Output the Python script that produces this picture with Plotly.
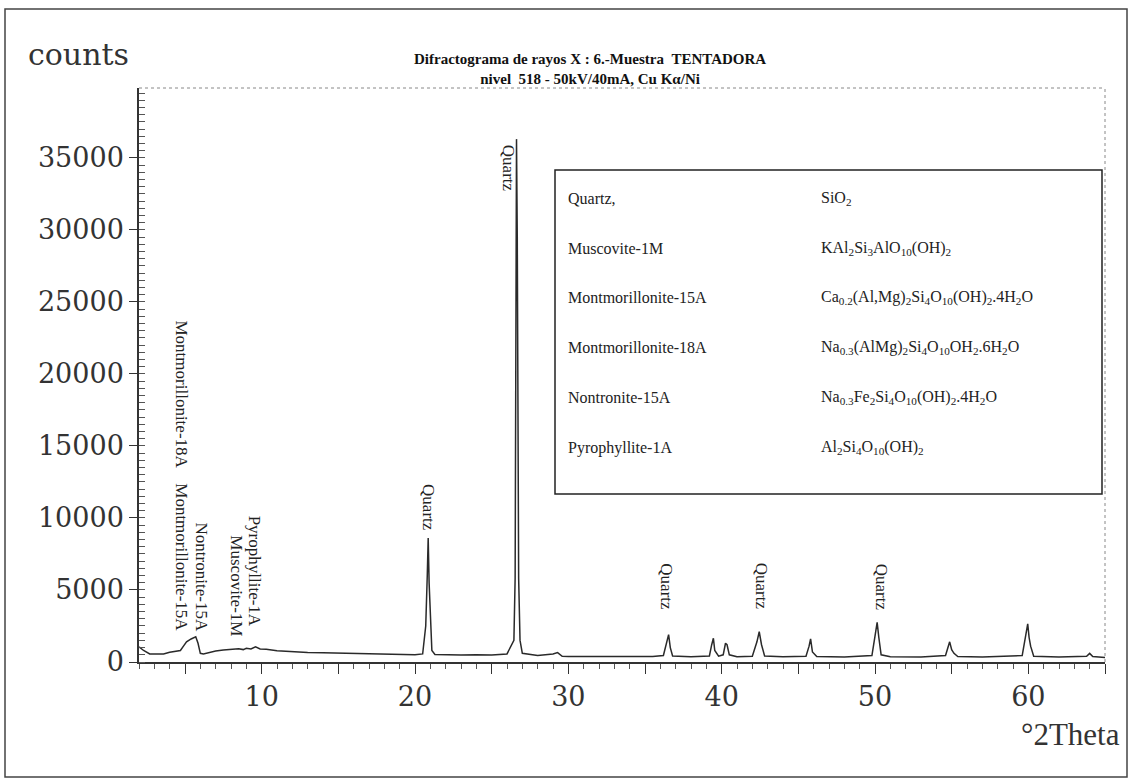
import plotly.graph_objects as go

# ---- data ----
two_theta = [2.0, 2.3, 2.7, 3.2, 3.6, 4.0, 4.4, 4.7, 4.9, 5.1, 5.4, 5.7, 5.85, 6.0, 6.2, 6.5,
             7.0, 7.5, 8.0, 8.5, 8.8, 9.0, 9.3, 9.6, 9.9, 10.3, 11.0, 12.0, 13.0, 14.0, 15.0,
             16.0, 17.0, 18.0, 19.0, 20.0, 20.5, 20.7, 20.8, 20.86, 20.92, 21.0, 21.1, 21.3,
             22.0, 23.0, 24.0, 25.0, 26.0, 26.45, 26.53, 26.58, 26.62, 26.67, 26.71, 26.76,
             26.85, 27.0, 28.0, 29.0, 29.3, 29.6, 30.0, 32.0, 34.0, 35.5, 36.2, 36.4, 36.54,
             36.65, 36.8, 38.0, 39.2, 39.35, 39.46, 39.55, 39.8, 40.1, 40.25, 40.35, 40.5,
             41.0, 42.0, 42.3, 42.45, 42.6, 42.8, 44.0, 45.5, 45.7, 45.8, 45.92, 46.2, 48.0,
             49.8, 50.0, 50.14, 50.25, 50.4, 51.0, 53.0, 54.6, 54.8, 54.87, 55.0, 55.15, 55.4,
             57.0, 59.6, 59.8, 59.96, 60.05, 60.15, 60.35, 62.0, 63.8, 64.0, 64.2, 65.0]
counts = [1050, 800, 560, 540, 560, 680, 740, 800, 1100, 1400, 1600, 1750, 1300, 600, 560, 650,
          760, 830, 880, 920, 860, 950, 900, 1050, 900, 880, 780, 700, 660, 640, 620,
          560, 540, 520, 520, 500, 560, 2500, 6000, 8600, 5500, 3000, 800, 520,
          500, 480, 500, 480, 560, 1500, 5800, 20500, 36300, 29500, 16300, 5800,
          1500, 600, 450, 550, 650, 400, 380, 370, 360, 380, 450, 1200, 1900,
          1000, 420, 360, 420, 1200, 1650, 800, 400, 500, 1300, 1200, 500,
          360, 400, 1400, 2100, 1200, 420, 360, 400, 1100, 1600, 700, 380, 350,
          450, 1800, 2750, 1700, 500, 360, 340, 450, 1200, 1400, 850, 600, 380,
          340, 450, 1800, 2650, 1700, 1100, 400, 350, 400, 600, 380, 320]

x_tick_vals = [5, 10, 15, 20, 25, 30, 35, 40, 45, 50, 55, 60, 65]
x_tick_text = ["", "10", "", "20", "", "30", "", "40", "", "50", "", "60", ""]
y_tick_vals = [0, 5000, 10000, 15000, 20000, 25000, 30000, 35000]
y_tick_text = ["0", "5000", "10000", "15000", "20000", "25000", "30000", "35000"]

# peak labels: (text, 2theta, counts at label bottom)
peak_labels = [
    ("Montmorillonite-18A", 4.8, 13300),
    ("Montmorillonite-15A", 4.8, 2000),
    ("Nontronite-15A", 6.05, 2000),
    ("Muscovite-1M", 8.35, 1650),
    ("Pyrophyllite-1A", 9.5, 2350),
    ("Quartz", 20.88, 8950),
    ("Quartz", 26.1, 32500),
    ("Quartz", 36.4, 3450),
    ("Quartz", 42.65, 3500),
    ("Quartz", 50.4, 3450),
]

phases = ["Quartz,", "Muscovite-1M", "Montmorillonite-15A", "Montmorillonite-18A",
          "Nontronite-15A", "Pyrophyllite-1A"]
formulas = [
    "SiO<sub>2</sub>",
    "KAl<sub>2</sub>Si<sub>3</sub>AlO<sub>10</sub>(OH)<sub>2</sub>",
    "Ca<sub>0.2</sub>(Al,Mg)<sub>2</sub>Si<sub>4</sub>O<sub>10</sub>(OH)<sub>2</sub>.4H<sub>2</sub>O",
    "Na<sub>0.3</sub>(AlMg)<sub>2</sub>Si<sub>4</sub>O<sub>10</sub>OH<sub>2</sub>.6H<sub>2</sub>O",
    "Na<sub>0.3</sub>Fe<sub>2</sub>Si<sub>4</sub>O<sub>10</sub>(OH)<sub>2</sub>.4H<sub>2</sub>O",
    "Al<sub>2</sub>Si<sub>4</sub>O<sub>10</sub>(OH)<sub>2</sub>",
]

# ---- layout geometry (pixels) ----
W, H = 1132, 783
L, R, T, B = 139, 1105, 88, 662
pw, ph = R - L, B - T

def px(xp):
    return (xp - L) / pw

def py(yp):
    return (B - yp) / ph

SERIF = "Liberation Serif, Times New Roman, serif"
WIDE = "DejaVu Serif, serif"
INK = "#222222"

fig = go.Figure()
fig.add_trace(go.Scatter(x=two_theta, y=counts, mode="lines",
                         line=dict(color="#2a2a2a", width=1.5), showlegend=False,
                         hoverinfo="skip"))

annotations = []
for text, xv, yv in peak_labels:
    annotations.append(dict(x=xv, y=yv, xref="x", yref="y", text=text, showarrow=False,
                            textangle=90, xanchor="center", yanchor="bottom",
                            font=dict(family=SERIF, size=17, color=INK)))

row_y = [198, 248, 297.5, 347.5, 397.5, 447.5]
for name, form, ry in zip(phases, formulas, row_y):
    annotations.append(dict(x=px(566), y=py(ry), xref="paper", yref="paper", text=name,
                            showarrow=False, xanchor="left", yanchor="middle",
                            font=dict(family=SERIF, size=16, color=INK)))
    annotations.append(dict(x=px(819), y=py(ry), xref="paper", yref="paper", text=form,
                            showarrow=False, xanchor="left", yanchor="middle",
                            font=dict(family=SERIF, size=16, color=INK)))

annotations.append(dict(x=px(590), y=py(69), xref="paper", yref="paper",
                        text="<b>Difractograma de rayos X : 6.-Muestra\u00a0\u00a0TENTADORA</b><br>"
                             "<b>nivel\u00a0\u00a0518 - 50kV/40mA, Cu K\u03b1/Ni</b>",
                        showarrow=False, xanchor="center", yanchor="middle",
                        font=dict(family=SERIF, size=15, color="#111111")))
annotations.append(dict(x=px(26), y=py(55), xref="paper", yref="paper", text="counts",
                        showarrow=False, xanchor="left", yanchor="middle",
                        font=dict(family=WIDE, size=30, color="#333333")))
annotations.append(dict(x=px(1122), y=py(734), xref="paper", yref="paper", text="\u00b02Theta",
                        showarrow=False, xanchor="right", yanchor="middle",
                        font=dict(family=SERIF, size=31, color="#333333")))

shapes = [
    # outer frame
    dict(type="rect", xref="paper", yref="paper", x0=px(5), x1=px(1127), y0=py(777), y1=py(9),
         line=dict(color="#444444", width=1.5)),
    # top and right plot borders (faint)
    dict(type="line", xref="paper", yref="paper", x0=0, x1=1, y0=1, y1=1,
         line=dict(color="#888888", width=1, dash="dot")),
    dict(type="line", xref="paper", yref="paper", x0=1, x1=1, y0=0, y1=1,
         line=dict(color="#888888", width=1, dash="dot")),
    # legend box
    dict(type="rect", xref="paper", yref="paper", x0=px(555), x1=px(1102), y0=py(494), y1=py(170),
         line=dict(color="#222222", width=1.5)),
]

fig.update_layout(
    width=W, height=H,
    margin=dict(l=L, r=W - R, t=T, b=H - B, pad=0),
    paper_bgcolor="white", plot_bgcolor="white",
    showlegend=False,
    annotations=annotations,
    shapes=shapes,
    xaxis=dict(range=[2, 65], tickmode="array", tickvals=x_tick_vals, ticktext=x_tick_text,
               ticks="outside", ticklen=10, tickwidth=1, tickcolor="#333333",
               showline=True, linecolor="#333333", linewidth=1.5,
               showgrid=False, zeroline=False,
               minor=dict(dtick=1, ticks="outside", ticklen=5, tickcolor="#555555", tickwidth=1, showgrid=False),
               tickfont=dict(family=WIDE, size=27, color="#333333")),
    yaxis=dict(range=[0, 39850], tickmode="array", tickvals=y_tick_vals, ticktext=y_tick_text,
               ticks="outside", ticklen=8, tickwidth=1, tickcolor="#333333",
               showline=True, linecolor="#333333", linewidth=1.5,
               showgrid=False, zeroline=False,
               minor=dict(dtick=500, tick0=0, ticks="inside", ticklen=6, tickcolor="#555555", tickwidth=1, showgrid=False),
               tickfont=dict(family=WIDE, size=27, color="#333333")),
)

fig.write_html("out.html")
